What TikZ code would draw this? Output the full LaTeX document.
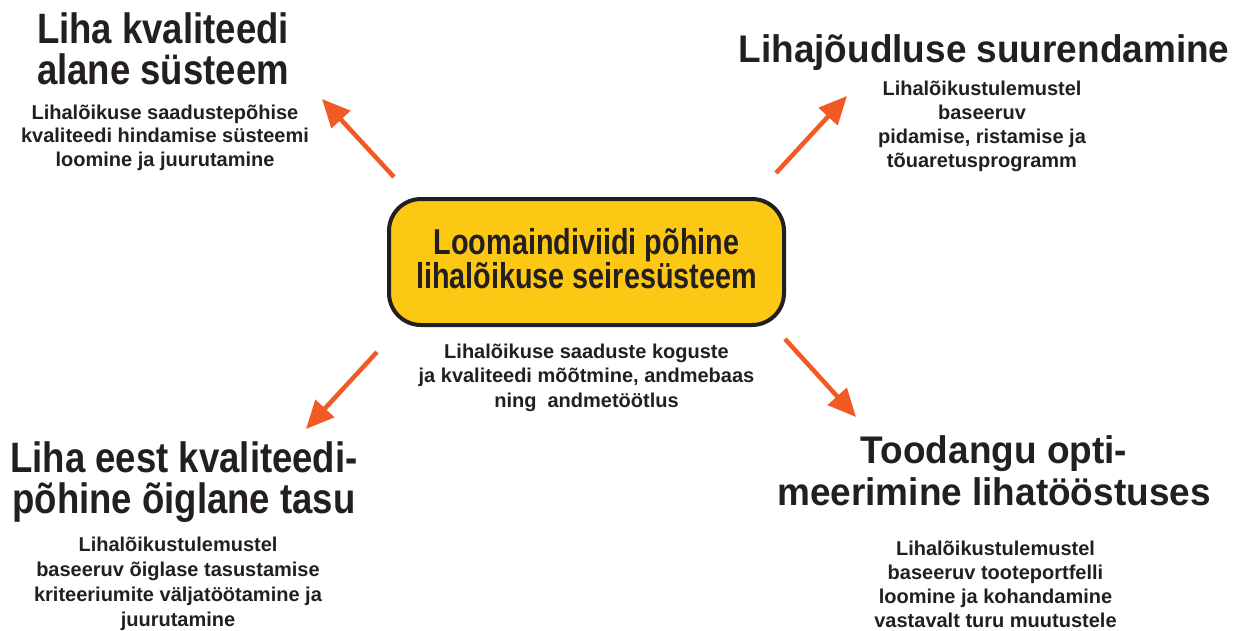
\documentclass[tikz,border=0pt]{standalone}
\usepackage{fontspec}
\setmainfont{Liberation Sans}
\newfontfamily\pealkiriV[FakeStretch=0.86]{Liberation Sans}
\newfontfamily\pealkiriP[FakeStretch=0.96]{Liberation Sans}
\newfontfamily\kastikiri[FakeStretch=0.80]{Liberation Sans}
\usetikzlibrary{arrows.meta}
\definecolor{nool}{RGB}{241,90,36}
\definecolor{kollane}{RGB}{252,200,20}
\definecolor{tint}{RGB}{35,31,32}
\lineskiplimit=-100pt

\begin{document}
\begin{tikzpicture}[x=1pt, y=-1pt, text=tint]
			\tikzstyle{pealkiriVasak} = [align=center, anchor=base, inner sep=0pt, font=\pealkiriV\bfseries\fontsize{42.5}{41}\selectfont]
			\tikzstyle{pealkiriParem} = [align=center, anchor=base, inner sep=0pt, font=\pealkiriP\bfseries\fontsize{38.5}{42}\selectfont]
			\tikzstyle{selgitus}      = [align=center, anchor=base, inner sep=0pt, font=\bfseries\fontsize{20}{24}\selectfont]
			\tikzstyle{seirekast}     = [draw=tint, line width=4pt, fill=kollane, rounded corners=32pt, minimum width=395pt, minimum height=126pt, inner sep=0pt]
			\tikzstyle{kastitekst}    = [align=center, anchor=base, inner sep=0pt, font=\kastikiri\bfseries\fontsize{36}{34}\selectfont]
			\tikzstyle{nooleke}       = [draw=nool, line width=4.5pt, -{Triangle[length=28pt, width=25pt]}]

			\useasboundingbox (0,0) rectangle (1235,630);

			% keskne kast
			\node[seirekast] (seire) at (586.5, 262) {};
			\node[kastitekst] (seireNimi) at (586.5, 288) {Loomaindiviidi põhine\\lihalõikuse seiresüsteem};
			\node[selgitus, font=\bfseries\fontsize{20}{24.5}\selectfont] (seireAla) at (586.5, 407) {Lihalõikuse saaduste koguste\\ja kvaliteedi mõõtmine, andmebaas\\ning\ \ andmetöötlus};

			% neli suunda (ankur = viimase rea alusjoon)
			\node[pealkiriVasak] (kvaliteet) at (163, 84) {Liha kvaliteedi\\alane süsteem};
			\node[selgitus, font=\bfseries\fontsize{20}{23.5}\selectfont] (kvaliteetAla) at (165, 166) {Lihalõikuse saadustepõhise\\kvaliteedi hindamise süsteemi\\loomine ja juurutamine};

			\node[pealkiriParem] (joudlus) at (984, 62) {Lihajõudluse suurendamine};
			\node[selgitus] (joudlusAla) at (982, 167.5) {Lihalõikustulemustel\\baseeruv\\pidamise, ristamise ja\\tõuaretusprogramm};

			\node[pealkiriVasak] (tasu) at (184, 513.5) {Liha eest kvaliteedi-\\põhine õiglane tasu};
			\node[selgitus, font=\bfseries\fontsize{20}{25}\selectfont] (tasuAla) at (178, 626.5) {Lihalõikustulemustel\\baseeruv õiglase tasustamise\\kriteeriumite väljatöötamine ja\\juurutamine};

			\node[pealkiriParem] (toodang) at (994, 505) {Toodangu opti-\\meerimine lihatööstuses};
			\node[selgitus] (toodangAla) at (995.5, 627.5) {Lihalõikustulemustel\\baseeruv tooteportfelli\\loomine ja kohandamine\\vastavalt turu muutustele};

			% noolte otsad
			\foreach \nimi/\x/\y in {a1/394/177, a2/322/99, b1/776/173, b2/847/96, c1/377/352, c2/306/429, d1/785/339, d2/856/417}
				\coordinate (\nimi) at (\x, \y);

			\foreach \from/\to in {a1/a2, b1/b2, c1/c2, d1/d2}
				\draw[nooleke] (\from) -- (\to);

		\end{tikzpicture}
\end{document}
